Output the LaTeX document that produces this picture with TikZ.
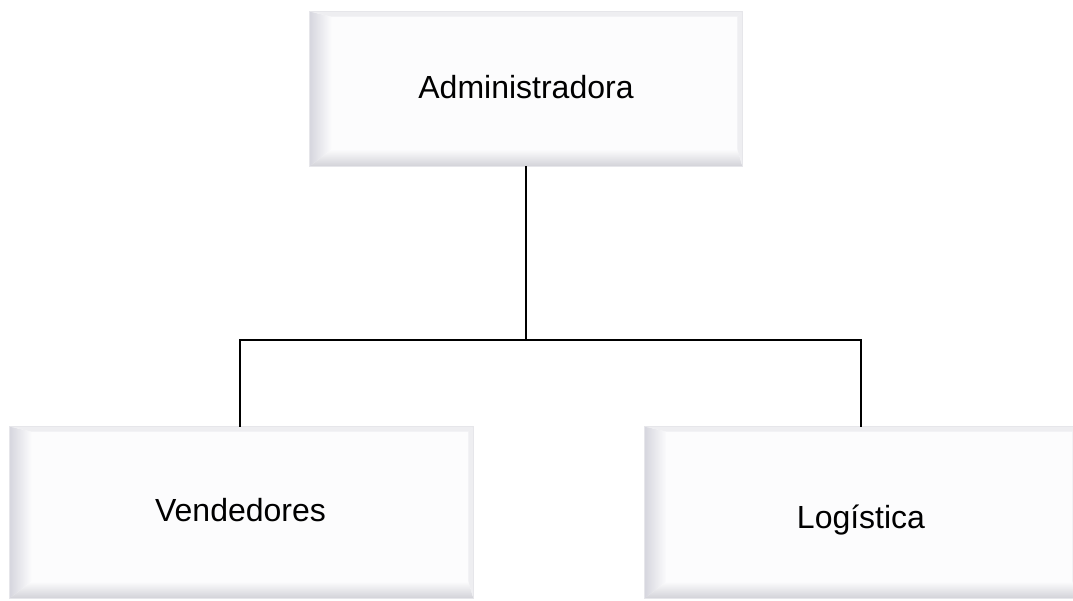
\documentclass[tikz,border=0pt]{standalone}
\usepackage{fontspec}
\setmainfont{Liberation Sans}
\begin{document}
\begin{tikzpicture}[x=1pt,y=1pt,
  bevelbox/.style={rectangle, inner sep=0pt, fill=faceW, draw=edgeG, line width=0.8pt,
    font=\fontsize{32}{38}\selectfont},
  link/.style={line width=2pt, black}]
\definecolor{faceW}{HTML}{FCFCFD}
\definecolor{edgeG}{HTML}{E6E6EA}
\definecolor{bevL}{HTML}{D6D6DE}
\definecolor{bevB}{HTML}{D2D2D8}
\definecolor{bevT}{HTML}{EEEEF1}
\useasboundingbox (0,0) rectangle (1073,601);
\clip (0,0) rectangle (1073,601);
\fill[white] (0,0) rectangle (1073,601);

\newcommand{\bevels}[1]{%
  \shade[left color=bevL, right color=faceW]
    (#1.south west) -- ([xshift=22pt,yshift=17pt]#1.south west) --
    ([xshift=22pt,yshift=-5pt]#1.north west) -- (#1.north west) -- cycle;
  \shade[bottom color=bevB, top color=faceW]
    (#1.south west) -- (#1.south east) --
    ([xshift=-5pt,yshift=17pt]#1.south east) -- ([xshift=22pt,yshift=17pt]#1.south west) -- cycle;
  \fill[bevT]
    (#1.north west) -- (#1.north east) --
    ([xshift=-5pt,yshift=-5pt]#1.north east) -- ([xshift=22pt,yshift=-5pt]#1.north west) -- cycle;
  \fill[bevT]
    (#1.north east) -- (#1.south east) --
    ([xshift=-5pt,yshift=17pt]#1.south east) -- ([xshift=-5pt,yshift=-5pt]#1.north east) -- cycle;
  \draw[edgeG, line width=0.8pt] (#1.south west) rectangle (#1.north east);
}

\node[bevelbox, minimum width=432pt, minimum height=154pt] (adm) at (526,512) {};
\bevels{adm}
\node at (adm.center) [font=\fontsize{32}{38}\selectfont, yshift=2pt] {Administradora};

\node[bevelbox, minimum width=463pt, minimum height=171pt] (ven) at (241.5,88.5) {};
\bevels{ven}
\node at (ven.center) [font=\fontsize{32}{38}\selectfont, xshift=-1pt, yshift=2pt] {Vendedores};

\node[bevelbox, minimum width=432pt, minimum height=171pt] (log) at (861,88.5) {};
\bevels{log}
\node at (log.center) [font=\fontsize{32}{38}\selectfont, yshift=-8pt] {Logística};

\coordinate (j) at (adm.south |- 0,261);
\draw[link] (adm.south) -- (j);
\draw[link] (ven.north -| 240,0) |- (j) -| (log.north);
\end{tikzpicture}
\end{document}
